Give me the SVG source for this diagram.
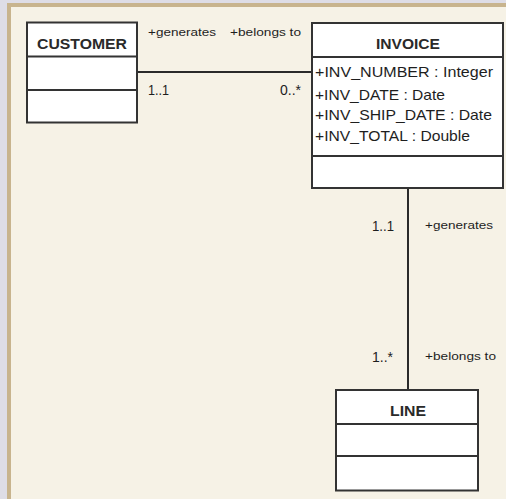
<svg xmlns="http://www.w3.org/2000/svg" width="506" height="499" viewBox="0 0 506 499">
<style>
.box{fill:#ffffff;stroke:#333333;stroke-width:2}
.div{stroke:#333333;stroke-width:2}
.conn{stroke:#2a2a2a;stroke-width:2;fill:none}
.title{font-family:"Liberation Sans",Arial,sans-serif;font-weight:bold;font-size:15px;fill:#2a2a2a;text-anchor:middle}
.attr{font-family:"Liberation Sans",Arial,sans-serif;font-size:15px;fill:#1e1e1e}
.role{font-family:"Liberation Sans",Arial,sans-serif;font-size:11px;fill:#1e1e1e}
.mult{font-family:"Liberation Sans",Arial,sans-serif;font-size:14px;fill:#1e1e1e}
</style>
<rect x="0" y="0" width="506" height="499" fill="#dedde6"/>
<rect x="7" y="3" width="499" height="496" fill="#c8b48e"/>
<rect x="11" y="7" width="495" height="492" fill="#f6f2e6"/>
<g id="connectors">
<line class="conn" x1="137" y1="72" x2="312" y2="72"/>
<line class="conn" x1="408" y1="188" x2="408" y2="390"/>
<text class="role" x="148" y="35.5" textLength="68" lengthAdjust="spacingAndGlyphs">+generates</text>
<text class="role" x="230" y="35.5" textLength="71" lengthAdjust="spacingAndGlyphs">+belongs to</text>
<text class="mult" x="148" y="94.5" textLength="21" lengthAdjust="spacingAndGlyphs">1..1</text>
<text class="mult" x="301" y="94.5" text-anchor="end">0..*</text>
<text class="mult" x="394" y="231" text-anchor="end" textLength="22" lengthAdjust="spacingAndGlyphs">1..1</text>
<text class="role" x="425" y="229" textLength="68" lengthAdjust="spacingAndGlyphs">+generates</text>
<text class="mult" x="393" y="362" text-anchor="end">1..*</text>
<text class="role" x="425" y="360" textLength="71" lengthAdjust="spacingAndGlyphs">+belongs to</text>
</g>
<g id="customer">
<rect class="box" x="27" y="22.5" width="110" height="100"/>
<line class="div" x1="27" y1="56.5" x2="137" y2="56.5"/>
<line class="div" x1="27" y1="90" x2="137" y2="90"/>
<text class="title" x="82" y="48.5" textLength="90" lengthAdjust="spacingAndGlyphs">CUSTOMER</text>
</g>
<g id="invoice">
<rect class="box" x="312" y="23" width="191" height="165"/>
<line class="div" x1="312" y1="57" x2="503" y2="57"/>
<line class="div" x1="312" y1="156" x2="503" y2="156"/>
<text class="title" x="408" y="48.5" textLength="64" lengthAdjust="spacingAndGlyphs">INVOICE</text>
<text class="attr" x="315" y="76.5" textLength="178" lengthAdjust="spacingAndGlyphs">+INV_NUMBER : Integer</text>
<text class="attr" x="315" y="99.5" textLength="130" lengthAdjust="spacingAndGlyphs">+INV_DATE : Date</text>
<text class="attr" x="315" y="120" textLength="177" lengthAdjust="spacingAndGlyphs">+INV_SHIP_DATE : Date</text>
<text class="attr" x="315" y="140.5" textLength="155" lengthAdjust="spacingAndGlyphs">+INV_TOTAL : Double</text>
</g>
<g id="line">
<rect class="box" x="336" y="390" width="142" height="100.5"/>
<line class="div" x1="336" y1="424" x2="478" y2="424"/>
<line class="div" x1="336" y1="456" x2="478" y2="456"/>
<text class="title" x="408" y="416" textLength="36" lengthAdjust="spacingAndGlyphs">LINE</text>
</g>
</svg>
